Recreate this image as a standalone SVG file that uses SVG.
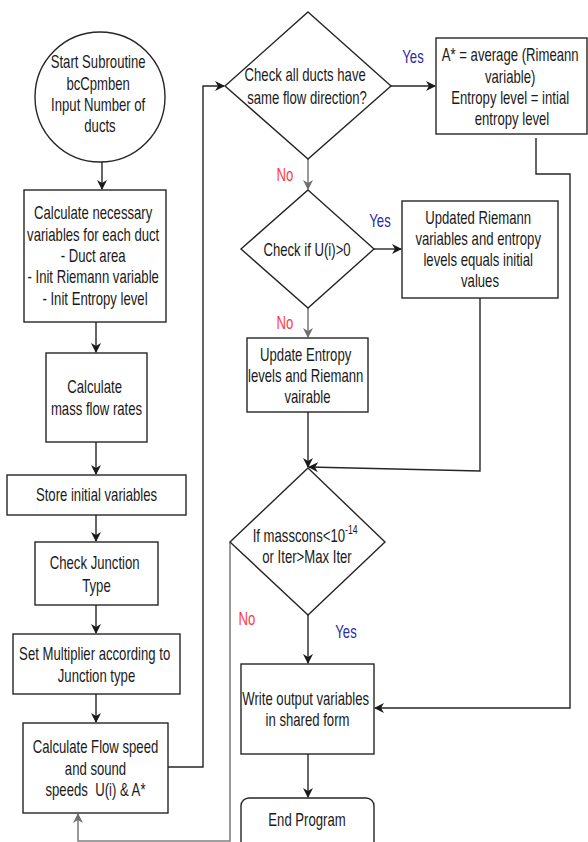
<svg xmlns="http://www.w3.org/2000/svg" width="588" height="842" viewBox="0 0 588 842">
  <style>
    .shape { fill: #ffffff; stroke: #262626; stroke-width: 1.4; }
    .t { font-family: "Liberation Sans", Arial, sans-serif; font-size: 18px; fill: #1a1a1a; text-anchor: middle; }
    .yes { font-family: "Liberation Sans", Arial, sans-serif; font-size: 18px; fill: #2b2ba6; text-anchor: middle; }
    .no { font-family: "Liberation Sans", Arial, sans-serif; font-size: 18px; fill: #ff3b3b; text-anchor: middle; }
    .link { fill: none; stroke: #262626; stroke-width: 1.4; }
    .grey { fill: none; stroke: #808080; stroke-width: 1.6; }
  </style>
  <defs>
    <marker id="arrow" viewBox="0 0 10 10" refX="9" refY="5" markerWidth="10" markerHeight="10" markerUnits="userSpaceOnUse" orient="auto">
      <path d="M0,0 L10,5 L0,10 L3,5 Z" fill="#1a1a1a"/>
    </marker>
    <marker id="arrowGrey" viewBox="0 0 10 10" refX="9" refY="5" markerWidth="10" markerHeight="10" markerUnits="userSpaceOnUse" orient="auto">
      <path d="M0,0 L10,5 L0,10 L3,5 Z" fill="#6e6e6e"/>
    </marker>
  </defs>

  <rect width="588" height="842" fill="#ffffff"/>

  <!-- connectors -->
  <g id="connectors">
    <path class="link" d="M102,162 V189" marker-end="url(#arrow)"/>
    <path class="link" d="M96,322 V352" marker-end="url(#arrow)"/>
    <path class="link" d="M96,442 V474" marker-end="url(#arrow)"/>
    <path class="link" d="M96,515 V541" marker-end="url(#arrow)"/>
    <path class="link" d="M96,605 V633" marker-end="url(#arrow)"/>
    <path class="link" d="M96,694 V722" marker-end="url(#arrow)"/>
    <path class="link" d="M168,767 H203 V86 H224" marker-end="url(#arrow)"/>
    <path class="link" d="M391,86 H435" marker-end="url(#arrow)"/>
    <path class="grey" d="M308,159 V189" marker-end="url(#arrowGrey)"/>
    <path class="link" d="M536,138 V174 H570 V708 H375" marker-end="url(#arrow)"/>
    <path class="link" d="M374,249 H401" marker-end="url(#arrow)"/>
    <path class="grey" d="M308,308 V337" marker-end="url(#arrowGrey)"/>
    <path class="link" d="M308,412 V467" marker-end="url(#arrow)"/>
    <path class="link" d="M480,298 V471 L309,467" marker-end="url(#arrow)"/>
    <path class="link" d="M308,615 V663" marker-end="url(#arrow)"/>
    <path class="grey" d="M230,542 V841 H78 V814" marker-end="url(#arrowGrey)"/>
    <path class="link" d="M308,754 V797" marker-end="url(#arrow)"/>
  </g>

  <!-- start -->
  <g id="start">
    <circle class="shape" cx="100" cy="97" r="65"/>
    <text class="t" transform="translate(100 0) scale(0.73 1)">
      <tspan x="0" y="68.5">Start Subroutine</tspan>
      <tspan x="0" y="89.8">bcCpmben</tspan>
      <tspan x="0" y="111.1">Input Number of</tspan>
      <tspan x="0" y="132.4">ducts</tspan>
    </text>
  </g>

  <g id="calc-vars">
    <rect class="shape" x="24" y="190" width="142" height="132"/>
    <text class="t" transform="translate(95 0) scale(0.73 1)">
      <tspan x="0" y="219.5">Calculate necessary</tspan>
      <tspan x="0" y="240.8">variables for each duct</tspan>
      <tspan x="0" y="262">- Duct area</tspan>
      <tspan x="0" y="283.4">- Init Riemann variable</tspan>
      <tspan x="0" y="304.7">- Init Entropy level</tspan>
    </text>
  </g>

  <g id="mass-flow">
    <rect class="shape" x="46" y="353" width="101" height="89"/>
    <text class="t" transform="translate(96.5 0) scale(0.73 1)">
      <tspan x="0" y="393">Calculate</tspan>
      <tspan x="0" y="415">mass flow rates</tspan>
    </text>
  </g>

  <g id="store">
    <rect class="shape" x="7" y="475" width="179" height="40"/>
    <text class="t" transform="translate(96.5 0) scale(0.73 1)">
      <tspan x="0" y="501.5">Store initial variables</tspan>
    </text>
  </g>

  <g id="junction">
    <rect class="shape" x="35" y="542" width="123" height="63"/>
    <text class="t" transform="translate(96.5 0) scale(0.73 1)">
      <tspan x="0" y="569.5">Check Junction</tspan>
      <tspan x="0" y="592">Type</tspan>
    </text>
  </g>

  <g id="multiplier">
    <rect class="shape" x="13" y="634" width="167" height="60"/>
    <text class="t" transform="translate(96.5 0) scale(0.73 1)">
      <tspan x="0" y="660.5">Set Multiplier according to</tspan>
      <tspan x="0" y="682.5">Junction type</tspan>
    </text>
  </g>

  <g id="flow-speed">
    <rect class="shape" x="23" y="723" width="145" height="90"/>
    <text class="t" transform="translate(95.5 0) scale(0.73 1)" xml:space="preserve"><tspan x="0" y="753.5">Calculate Flow speed</tspan><tspan x="0" y="775">and sound</tspan><tspan x="0" y="796.5">speeds  U(i) &amp; A*</tspan></text>
  </g>

  <g id="same-direction">
    <polygon class="shape" points="308,12 391,86 308,159 225,86"/>
    <text class="t" transform="translate(307 0) scale(0.73 1)">
      <tspan x="0" y="81.5">Check all ducts have</tspan>
      <tspan x="0" y="104.5">same flow direction?</tspan>
    </text>
  </g>

  <g id="average">
    <rect class="shape" x="436" y="38" width="151" height="96"/>
    <text class="t" transform="translate(512 0) scale(0.73 1)">
      <tspan x="0" y="61.5">A* = average (Rimeann</tspan>
      <tspan x="0" y="83">variable)</tspan>
      <tspan x="0" y="104.5">Entropy level = intial</tspan>
      <tspan x="0" y="125">entropy level</tspan>
    </text>
  </g>

  <g id="check-u">
    <polygon class="shape" points="308,190 374,249 308,308 241,249"/>
    <text class="t" transform="translate(307 0) scale(0.73 1)">
      <tspan x="0" y="256.5">Check if U(i)&gt;0</tspan>
    </text>
  </g>

  <g id="keep-initial">
    <rect class="shape" x="402" y="201" width="156" height="97"/>
    <text class="t" transform="translate(480 0) scale(0.73 1)">
      <tspan x="0" y="223.8">Updated Riemann</tspan>
      <tspan x="0" y="245">variables and entropy</tspan>
      <tspan x="0" y="266.5">levels equals initial</tspan>
      <tspan x="0" y="287.5">values</tspan>
    </text>
  </g>

  <g id="update-entropy">
    <rect class="shape" x="247" y="338" width="121" height="74"/>
    <text class="t" transform="translate(307.5 0) scale(0.73 1)">
      <tspan x="0" y="361.5">Update Entropy</tspan>
      <tspan x="0" y="382.5">levels and Riemann</tspan>
      <tspan x="0" y="403.5">vairable</tspan>
    </text>
  </g>

  <g id="convergence">
    <polygon class="shape" points="308,468 385,542 308,615 230,542"/>
    <text class="t" transform="translate(307 0) scale(0.73 1)">
      <tspan x="0" y="542.5">If masscons&lt;10<tspan dy="-8" font-size="12px">-14</tspan></tspan>
      <tspan x="0" y="563">or Iter&gt;Max Iter</tspan>
    </text>
  </g>

  <g id="write-output">
    <rect class="shape" x="241" y="664" width="133" height="90"/>
    <text class="t" transform="translate(307.5 0) scale(0.73 1)">
      <tspan x="0" y="705">Write output variables</tspan>
      <tspan x="0" y="726.5">in shared form</tspan>
    </text>
  </g>

  <g id="end">
    <rect class="shape" x="241" y="798" width="133" height="52" rx="8"/>
    <text class="t" transform="translate(307 0) scale(0.73 1)">
      <tspan x="0" y="826">End Program</tspan>
    </text>
  </g>

  <!-- branch labels -->
  <g id="labels">
    <text class="yes" transform="translate(413 0) scale(0.73 1)" x="0" y="63.5">Yes</text>
    <text class="no" transform="translate(285 0) scale(0.73 1)" x="0" y="181.5">No</text>
    <text class="yes" transform="translate(380 0) scale(0.73 1)" x="0" y="227.5">Yes</text>
    <text class="no" transform="translate(285 0) scale(0.73 1)" x="0" y="329.5">No</text>
    <text class="no" transform="translate(247 0) scale(0.73 1)" x="0" y="625.5">No</text>
    <text class="yes" transform="translate(346 0) scale(0.73 1)" x="0" y="638.5">Yes</text>
  </g>
</svg>
